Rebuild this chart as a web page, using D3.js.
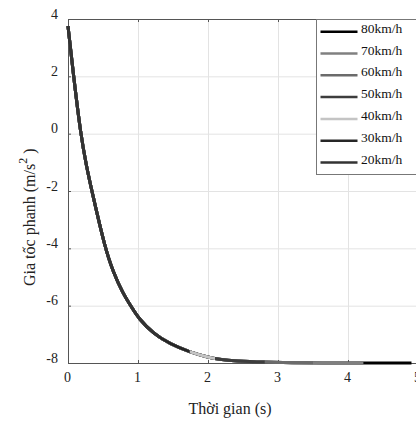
<!DOCTYPE html>
<html>
<head>
<meta charset="utf-8">
<script src="https://cdn.jsdelivr.net/npm/d3@7"></script>
<style>
  body { margin: 0; background: #fff; }
  svg { display: block; font-family: "Liberation Serif", "DejaVu Serif", serif; }
</style>
</head>
<body>
<div id="chart"></div>
<script>
// time (s) and braking deceleration (m/s^2)
const time  = [0, 0.08, 0.18, 0.26, 0.35, 0.53, 0.65, 0.78, 0.91, 1.01, 1.22, 1.46, 1.74, 2.0, 2.15, 2.4, 2.81, 3.2, 3.6, 4.2, 4.91];
const accel = [3.75, 2.0, 0.0, -1.1, -2.1, -4.0, -4.85, -5.55, -6.06, -6.45, -6.98, -7.34, -7.62, -7.8, -7.87, -7.93, -7.97, -7.99, -8.0, -8.0, -8.0];

// one series per initial speed, each ends at its stop time
const speeds   = ['80km/h', '70km/h', '60km/h', '50km/h', '40km/h', '30km/h', '20km/h'];
const stopTime = [4.91, 4.22, 3.5, 2.81, 2.1, 1.74, 1.3];

const xTicks = [0, 1, 2, 3, 4, 5];
const yTicks = [4, 2, 0, -2, -4, -6, -8];

const colors = ['#000000', '#808080', '#6b6b6b', '#3d3d3d', '#c4c4c4', '#262626', '#333333'];

const W = 416, H = 422;
const m = {left: 68, right: 418, top: 19, bottom: 363};

const svg = d3.select('#chart').append('svg')
  .attr('width', W)
  .attr('height', H);

svg.append('rect').attr('width', W).attr('height', H).attr('fill', '#fff');

const x = d3.scaleLinear().domain([0, 5]).range([m.left, m.right]);
const y = d3.scaleLinear().domain([-8, 4]).range([m.bottom, m.top]);

// grid
let grid = svg.append('g').attr('stroke', '#e3e3e3').attr('stroke-width', 1);
xTicks.forEach(t => {
  grid.append('line')
    .attr('x1', x(t) + 0.5).attr('x2', x(t) + 0.5)
    .attr('y1', m.top).attr('y2', m.bottom);
});
yTicks.forEach(t => {
  grid.append('line')
    .attr('x1', m.left).attr('x2', m.right)
    .attr('y1', y(t) + 0.5).attr('y2', y(t) + 0.5);
});

// axes box (left, bottom, top) with inward ticks
let axis = svg.append('g').attr('stroke', '#555').attr('stroke-width', 1).attr('fill', 'none');
axis.append('path')
  .attr('d', `M${m.right},${m.top + 0.5}H${m.left + 0.5}V${m.bottom + 0.5}H${m.right}`);
xTicks.forEach(t => {
  axis.append('line').attr('x1', x(t) + 0.5).attr('x2', x(t) + 0.5).attr('y1', m.bottom).attr('y2', m.bottom - 3);
  axis.append('line').attr('x1', x(t) + 0.5).attr('x2', x(t) + 0.5).attr('y1', m.top).attr('y2', m.top + 3);
});
yTicks.forEach(t => {
  axis.append('line').attr('x1', m.left).attr('x2', m.left + 3).attr('y1', y(t) + 0.5).attr('y2', y(t) + 0.5);
});

// tick labels
svg.append('g')
  .selectAll('text')
  .data(yTicks)
  .join('text')
  .attr('x', 58)
  .attr('y', d => y(d) - 0.5)
  .attr('text-anchor', 'end')
  .attr('font-size', '14px')
  .attr('fill', '#222')
  .text(d => d);

svg.append('g')
  .selectAll('text')
  .data(xTicks)
  .join('text')
  .attr('x', d => x(d) - 0.5)
  .attr('y', 382)
  .attr('text-anchor', 'middle')
  .attr('font-size', '14px')
  .attr('fill', '#222')
  .text(d => d);

// curves: drawn from 80km/h to 20km/h, each clipped at its stop time
const pts = time.map((t, i) => [t, accel[i]]);
const line = d3.line()
  .x(d => x(d[0]))
  .y(d => y(d[1]))
  .curve(d3.curveBasis);

let defs = svg.append('defs');
speeds.forEach((s, i) => {
  defs.append('clipPath').attr('id', 'clip' + i)
    .append('rect')
    .attr('x', x(0) - 5)
    .attr('y', 0)
    .attr('width', x(stopTime[i]) - x(0) + 5)
    .attr('height', H);

  svg.append('path')
    .datum(pts)
    .attr('d', line)
    .attr('fill', 'none')
    .attr('stroke', colors[i])
    .attr('stroke-width', 3)
    .attr('clip-path', `url(#clip${i})`);
});

// legend
let lg = svg.append('g');
lg.append('rect')
  .attr('x', 316.5).attr('y', 19.5)
  .attr('width', 110).attr('height', 155)
  .attr('fill', '#fff')
  .attr('stroke', '#777')
  .attr('stroke-width', 1);

speeds.forEach((s, i) => {
  let ly = 31.7 + i * 21.8;
  lg.append('line')
    .attr('x1', 320.5).attr('x2', 357.5)
    .attr('y1', ly).attr('y2', ly)
    .attr('stroke', colors[i])
    .attr('stroke-width', 2.5);
  lg.append('text')
    .attr('x', 361)
    .attr('y', ly + 1)
    .attr('font-size', '13.5px')
    .attr('fill', '#111')
    .text(s);
});

// axis titles
svg.append('text')
  .attr('x', 230)
  .attr('y', 414)
  .attr('text-anchor', 'middle')
  .attr('font-size', '16px')
  .attr('fill', '#222')
  .text('Thời gian (s)');

let yt = svg.append('text')
  .attr('transform', 'translate(35,286) rotate(-90)')
  .attr('font-size', '16px')
  .attr('fill', '#222');
yt.append('tspan').text('Gia tốc phanh (m/s');
yt.append('tspan').attr('dy', -8).attr('font-size', '12px').text('2');
yt.append('tspan').attr('dy', 8).text(' )');
</script>
</body>
</html>
